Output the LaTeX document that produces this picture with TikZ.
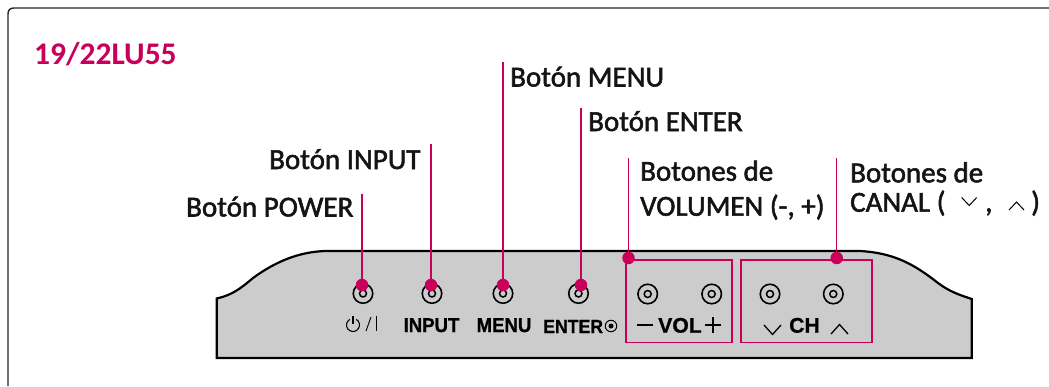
\documentclass[tikz,border=0pt]{standalone}
\usepackage{fontspec}
\setmainfont{Carlito}
\newfontfamily\labfont[FakeBold=1.8]{Carlito}
\newfontfamily\panelfont[FakeStretch=0.93,BoldFeatures={FakeBold=0.8}]{Liberation Sans}
\newfontfamily\panelwide[BoldFeatures={FakeBold=0.8}]{Liberation Sans}
\definecolor{lgred}{HTML}{C8005A}
\definecolor{panelgray}{HTML}{CCCCCC}
\tikzset{
 x=1pt,y=-1pt,
 lab/.style={anchor=base west,inner sep=0pt,font=\labfont\fontsize{29}{29}\selectfont,text=black!92},
 lead/.style={draw=lgred,line width=1.3pt},
 dotmark/.style={circle,fill=lgred,inner sep=0pt,minimum size=12.5pt},
 pbox/.style={draw=lgred,line width=1.8pt,fill=none,inner sep=0pt},
 plab/.style={inner sep=0pt,font=\panelfont\bfseries\fontsize{20}{20}\selectfont,anchor=base},
 plabw/.style={inner sep=0pt,font=\panelwide\bfseries\fontsize{21.2}{21.2}\selectfont,anchor=base},
 ring/.style={circle,draw=black,line width=1.6pt,minimum size=19.5pt,inner sep=0pt},
 ringin/.style={circle,draw=black,line width=1.5pt,minimum size=7pt,inner sep=0pt},
}
\newcommand{\panelbtn}[3]{\node[ring] (#1) at (#2,#3) {};\node[ringin] (#1i) at (#2,#3) {};}
\begin{document}
\begin{tikzpicture}
\useasboundingbox (0,0) rectangle (1049,386);
\draw[line width=1.4pt,black!85] (8,386) -- (8,14) .. controls (8,10) and (10,8) .. (14,8) -- (1049,8);
\node[anchor=base west,inner sep=0pt,font=\fontsize{31.5}{31.5}\selectfont\bfseries,text=lgred] (title) at (34,64) {19/22LU55};
\draw[line width=2.2pt,fill=panelgray] (216.7,358) -- (216.7,298.5) .. controls (232,295) and (240,289) .. (253,278) .. controls (275,262) and (298,252) .. (325,251) -- (860,251) .. controls (895,253) and (915,265) .. (938,283) .. controls (950,292) and (960,295) .. (971.7,299) -- (971.7,358) -- cycle;
\panelbtn{b1}{363}{293.5}
\panelbtn{b2}{432}{293.5}
\panelbtn{b3}{503}{293.5}
\panelbtn{b4}{578.5}{293.5}
\panelbtn{b5}{647.7}{294}
\panelbtn{b6}{711.7}{294}
\panelbtn{b7}{770}{294}
\panelbtn{b8}{833.3}{294}
\node[pbox,minimum width=106pt,minimum height=82.5pt] (volbox) at (679,301.3) {};
\node[pbox,minimum width=131pt,minimum height=82.5pt] (chbox) at (806.3,301.3) {};
\begin{scope}[shift={(353,325)},y=1pt]
\draw[line width=1.1pt] (60:6.5) arc[start angle=60,end angle=-240,radius=6.5];
\draw[line width=1.1pt] (0,1) -- (0,9.5);
\end{scope}
\draw[line width=0.9pt] (366,331) -- (371,317);
\draw[line width=1.4pt] (376.7,315.5) -- (376.7,331);
\node[plab] (inp) at (431.5,332) {INPUT};
\node[plab] (men) at (504,332) {MENU};
\node[plab,anchor=base west,font=\panelfont\bfseries\fontsize{19}{19}\selectfont] (ent2) at (543,333) {ENTER};
\node[circle,draw=black,line width=1pt,minimum size=11.5pt,inner sep=0pt] (entr) at (611,326) {};
\node[circle,fill=black,minimum size=5pt,inner sep=0pt] (entd) at (611,326) {};
\draw[line width=1.7pt] (636.7,325.3) -- (652.7,325.3);
\node[plabw] (vol) at (680,332.7) {VOL};
\draw[line width=1.7pt] (705,325.3) -- (720.7,325.3) (712.8,317) -- (712.8,333);
\node[plabw] (ch) at (804.5,332.7) {CH};
\draw[line width=1.3pt] (764,325) -- (772.5,334.5) -- (781,325);
\draw[line width=1.3pt] (831,334) -- (839.5,324.5) -- (848,334);
\node[lab] (lp) at (186,216.5) {Botón POWER};
\node[lab] (li) at (269,169) {Botón INPUT};
\node[lab] (lm) at (510,86.5) {Botón MENU};
\node[lab] (le) at (588,131) {Botón ENTER};
\node[lab] (lv1) at (640,180.7) {Botones de};
\node[lab] (lv2) at (640,215.7) {VOLUMEN (-, +)};
\node[lab] (lc1) at (850,182.3) {Botones de};
\node[lab] (lc2) at (850,211.7) {CANAL (};
\node[lab] (comma) at (985,211.7) {,};
\node[lab] (close) at (1031,211.7) {)};
\draw[line width=1pt] (961.7,197.5) -- (969.2,205.5) -- (976.7,197.5);
\draw[line width=1pt] (1009,210) -- (1016.5,202) -- (1024,210);
\foreach \n/\x/\ya/\yb in {d1/362/194/285,d2/431/144/285,d3/503/62/285,d4/581/108/285,d5/628.5/158/258,d6/836.7/158/258}{
 \coordinate (\n t) at (\x,\ya);
 \node[dotmark] (\n) at (\x,\yb) {};
 \draw[lead] (\n t) -- (\n);
}
\end{tikzpicture}
\end{document}
